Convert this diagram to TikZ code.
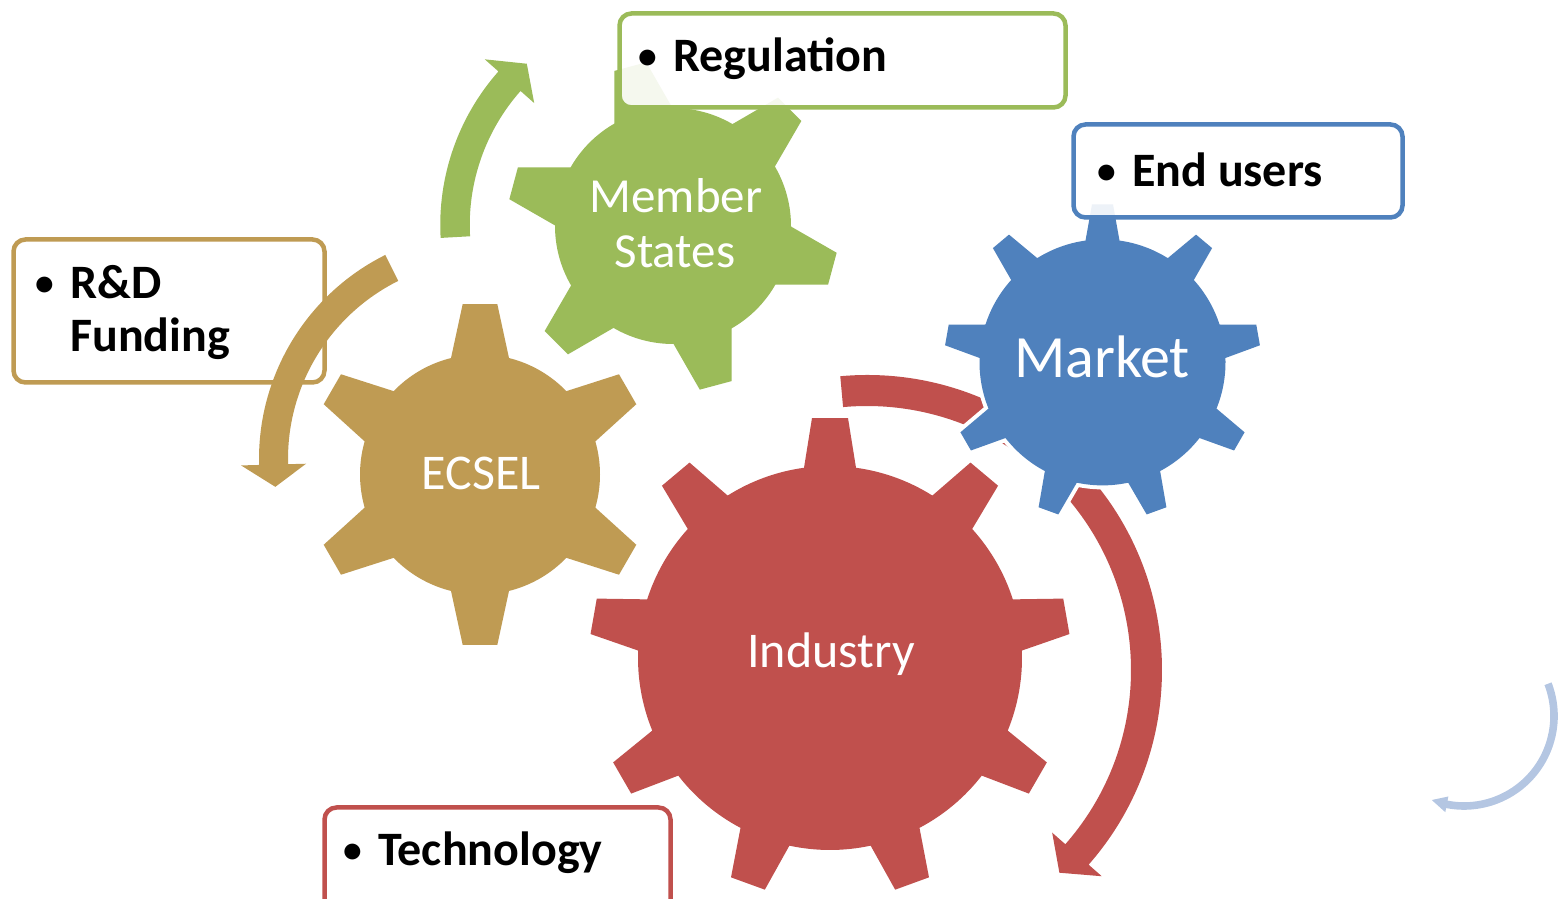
\documentclass[tikz,border=0pt]{standalone}
\usepackage{fontspec}
\setmainfont{Carlito}
\usetikzlibrary{calc}
\definecolor{ggreen}{RGB}{155,187,89}
\definecolor{gblue}{RGB}{79,129,189}
\definecolor{gred}{RGB}{192,80,77}
\definecolor{gtan}{RGB}{191,155,83}
\definecolor{lblue}{RGB}{180,198,226}
% #1 style, #2 center, #3 teeth, #4 first angle, #5 body r, #6 tip r, #7 tip half width, #8 base half width
\newcommand\gearshape[8][]{%
  \pgfmathsetmacro\gdb{asin(#8/#5)}%
  \pgfmathsetmacro\gdt{atan(#7/#6)}%
  \pgfmathsetmacro\grt{veclen(#6,#7)}%
  \pgfmathsetmacro\gstep{360/#3}%
  \begin{scope}[shift={#2}]
  \path[gearbody,#1] ({#4-\gdb}:#5)
    \foreach \k in {1,...,#3}{
      -- ({#4+(\k-1)*\gstep-\gdt}:\grt) -- ({#4+(\k-1)*\gstep+\gdt}:\grt)
      -- ({#4+(\k-1)*\gstep+\gdb}:#5)
      arc[start angle={#4+(\k-1)*\gstep+\gdb}, end angle={#4+\k*\gstep-\gdb}, radius=#5]
    } -- cycle;
  \end{scope}}
% #1 style, #2 center, #3 mid r, #4 half thickness, #5 start, #6 join, #7 tip, #8 wing half width
\newcommand\circarrow[8][]{%
  \begin{scope}[shift={#2}]
  \fill[#1] (#5:{#3+#4}) arc[start angle=#5, end angle=#6, radius={#3+#4}]
    -- (#6:{#3+#8}) -- (#7:#3) -- (#6:{#3-#8}) -- (#6:{#3-#4})
    arc[start angle=#6, end angle=#5, radius={#3-#4}] -- cycle;
  \end{scope}}
\newcommand\bul{\llap{\raisebox{3.5pt}{\scalebox{0.78}{\textbullet}}\hspace{16pt}}}
\tikzset{
  gearbody/.style={preaction={draw=white, line width=8pt}},
  labelbox/.style={line width=4.5pt, rounded corners=12pt, fill=white, fill opacity=0.9},
  boxtext/.style={inner sep=0pt, text=black, font=\fontsize{48}{54}\selectfont\bfseries},
  geartext/.style={inner sep=0pt, text=white},
}
\begin{document}
\begin{tikzpicture}[x=1pt, y=1pt]
\useasboundingbox (0,0) rectangle (1558,899);
\clip (0,0) rectangle (1558,899);
% red arrow (behind the market gear)
\circarrow[fill=gred]{(867,229)}{279.5}{15.5}{95.2}{-41.3}{-46.5}{33}
% light blue partial arrow at right edge
\circarrow[fill=lblue]{(1464,183)}{90}{3.8}{21}{-101}{-111}{8}
% gears
\gearshape[fill=gred]{(830,241)}{9}{90}{192}{240}{18}{26}
\gearshape[fill=gblue]{(1102.5,536.6)}{9}{90}{123}{158}{10.5}{17}
\gearshape[fill=gtan]{(480,424.5)}{6}{90}{120}{170.5}{17.3}{29}
\gearshape[fill=ggreen]{(673,673)}{6}{165}{118}{165}{16.5}{30}
% gear labels
\node[geartext, anchor=base, font=\fontsize{49}{56}\selectfont] (ms1) at (676,686) {Member};
\node[geartext, anchor=base, font=\fontsize{49}{56}\selectfont] (ms2) at (675,631) {States};
\node[geartext, anchor=base, font=\fontsize{60}{66}\selectfont] (mkt) at (1102,521) {Market};
\node[geartext, anchor=base, font=\fontsize{50}{56}\selectfont] (ecs) at (481,409) {ECSEL};
\node[geartext, anchor=base, font=\fontsize{50}{56}\selectfont] (ind) at (831,231) {Industry};
% label boxes
\draw[labelbox, draw=ggreen] (619.5,885.5) rectangle (1065.5,791.5);
\draw[labelbox, draw=gblue] (1073.5,774.5) rectangle (1402.5,681.5);
\draw[labelbox, draw=gtan] (13.5,659.5) rectangle (324.5,516.5);
\draw[labelbox, draw=gred] (324.5,91.5) rectangle (670.5,-20);
\node[boxtext, anchor=base west] (reg) at (673,827) {\bul Regulation};
\node[boxtext, anchor=base west] (end) at (1132,712) {\bul End users};
\node[boxtext, anchor=base west] (rd) at (70,600) {\bul R\&D};
\node[boxtext, anchor=base west] (fund) at (70,547) {Funding};
\node[boxtext, anchor=base west] (tech) at (378,33) {\bul Technology};
% tan and green arrows
\circarrow[fill=gtan]{(487,440)}{213.5}{14.5}{116.5}{181.5}{187.5}{32.5}
\circarrow[fill=ggreen]{(672,674)}{217}{14.75}{183.2}{138.5}{132}{33}
\end{tikzpicture}
\end{document}
